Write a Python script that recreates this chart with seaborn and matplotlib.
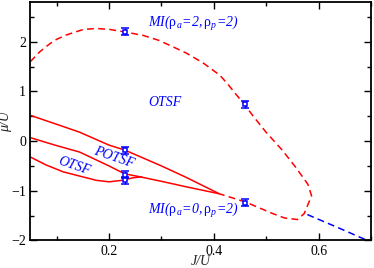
import seaborn as sns
import matplotlib.pyplot as plt
from matplotlib.ticker import MultipleLocator

# MI / OTSF boundary (red dashed), runs from the left edge round to the tip
mi_j = [0.05, 0.068, 0.087, 0.10, 0.119, 0.151, 0.176, 0.201, 0.23, 0.265,
        0.295, 0.322, 0.348, 0.38, 0.411, 0.427, 0.443, 0.458, 0.475, 0.50,
        0.530, 0.556, 0.579, 0.586, 0.572, 0.559, 0.535, 0.512, 0.461, 0.41]
mi_mu = [1.60, 1.80, 1.96, 2.05, 2.14, 2.25, 2.27, 2.25, 2.20, 2.13,
         2.03, 1.90, 1.77, 1.57, 1.33, 1.14, 0.93, 0.74, 0.50, 0.17,
         -0.18, -0.53, -0.87, -1.10, -1.46, -1.58, -1.55, -1.46, -1.23, -1.06]

# blue dashed continuation
blue_j = [0.578, 0.638, 0.692]
blue_mu = [-1.48, -1.75, -2.0]

# solid red boundaries of the POTSF / OTSF lobes
top_j = [0.05, 0.10, 0.144, 0.20, 0.23, 0.30, 0.347, 0.41]
top_mu = [0.52, 0.34, 0.18, -0.08, -0.18, -0.50, -0.73, -1.06]
mid_j = [0.05, 0.10, 0.144, 0.20, 0.23, 0.255, 0.30, 0.347, 0.41]
mid_mu = [0.07, -0.09, -0.22, -0.50, -0.66, -0.71, -0.81, -0.92, -1.06]
low_j = [0.05, 0.08, 0.113, 0.15, 0.176, 0.20, 0.225, 0.245, 0.262]
low_mu = [-0.32, -0.48, -0.62, -0.72, -0.79, -0.82, -0.79, -0.74, -0.72]

# QMC points with error bars
pt_j = [0.23, 0.46, 0.23, 0.23, 0.23, 0.46]
pt_mu = [2.20, 0.74, -0.18, -0.68, -0.79, -1.24]
pt_err = [0.07, 0.07, 0.07, 0.07, 0.07, 0.07]

sns.set_theme(style="ticks")
plt.rcParams['font.family'] = ['Liberation Serif', 'DejaVu Serif']
plt.rcParams['mathtext.fontset'] = 'custom'
plt.rcParams['mathtext.it'] = 'Liberation Serif:italic'
plt.rcParams['mathtext.rm'] = 'Liberation Serif:italic'
plt.rcParams['mathtext.sf'] = 'Liberation Serif'

fig = plt.figure(figsize=(3.74, 2.68), dpi=100)
ax = fig.add_axes([0.081, 0.103, 0.912, 0.889])

dash = (0, (4.5, 2.8))
sns.lineplot(x=mi_j, y=mi_mu, sort=False, estimator=None, color='#ff0000',
             lw=1.1, linestyle=dash, ax=ax)
sns.lineplot(x=blue_j, y=blue_mu, sort=False, estimator=None, color='#0000ff',
             lw=1.1, linestyle=dash, ax=ax)
for xs, ys in [(top_j, top_mu), (mid_j, mid_mu), (low_j, low_mu)]:
    sns.lineplot(x=xs, y=ys, sort=False, estimator=None, color='#ff0000',
                 lw=1.1, ax=ax)

ax.errorbar(pt_j, pt_mu, yerr=pt_err, fmt='s', ms=3.3, mfc='white', mec='#0000ff',
            mew=1.1, ecolor='#0000ff', elinewidth=1.0, capsize=2.8, capthick=1.2,
            zorder=5)

blue = '#0000ff'
mi_top = r'$MI(\mathsf{\rho}_a\!=\!2,\mathsf{\rho}_p\!=\!2)$'
mi_bot = r'$MI(\mathsf{\rho}_a\!=\!0,\mathsf{\rho}_p\!=\!2)$'
ax.text(0.274, 2.36, mi_top, color=blue, fontsize=10, va='center', ha='left')
ax.text(0.274, -1.40, mi_bot, color=blue, fontsize=10, va='center', ha='left')
ax.text(0.306, 0.77, 'OTSF', color=blue, fontsize=10, style='italic',
        va='center', ha='center')
ax.text(0.21, -0.32, 'POTSF', color=blue, fontsize=10, style='italic',
        va='center', ha='center', rotation=-19)
ax.text(0.134, -0.50, 'OTSF', color=blue, fontsize=10, style='italic',
        va='center', ha='center', rotation=-19)

ax.set_xlim(0.05, 0.7)
ax.set_ylim(-2.0, 2.8)
ax.xaxis.set_major_locator(MultipleLocator(0.2))
ax.xaxis.set_minor_locator(MultipleLocator(0.1))
ax.yaxis.set_major_locator(MultipleLocator(1))
ax.yaxis.set_minor_locator(MultipleLocator(0.5))
ax.tick_params(which='both', direction='in', top=True, right=True, width=1,
               colors='black', labelsize=10, pad=3)
ax.tick_params(which='major', length=5)
ax.tick_params(which='minor', length=3)
for s in ax.spines.values():
    s.set_linewidth(1.3)
    s.set_color('black')

ax.set_xlabel('J/U', style='italic', fontsize=10, va='center')
ax.xaxis.set_label_coords(0.5, -0.088)
ax.set_ylabel('\u03bc/U', style='italic', fontsize=10, va='center')
ax.yaxis.set_label_coords(-0.072, 0.5)

fig.savefig('out.png', dpi=100)
